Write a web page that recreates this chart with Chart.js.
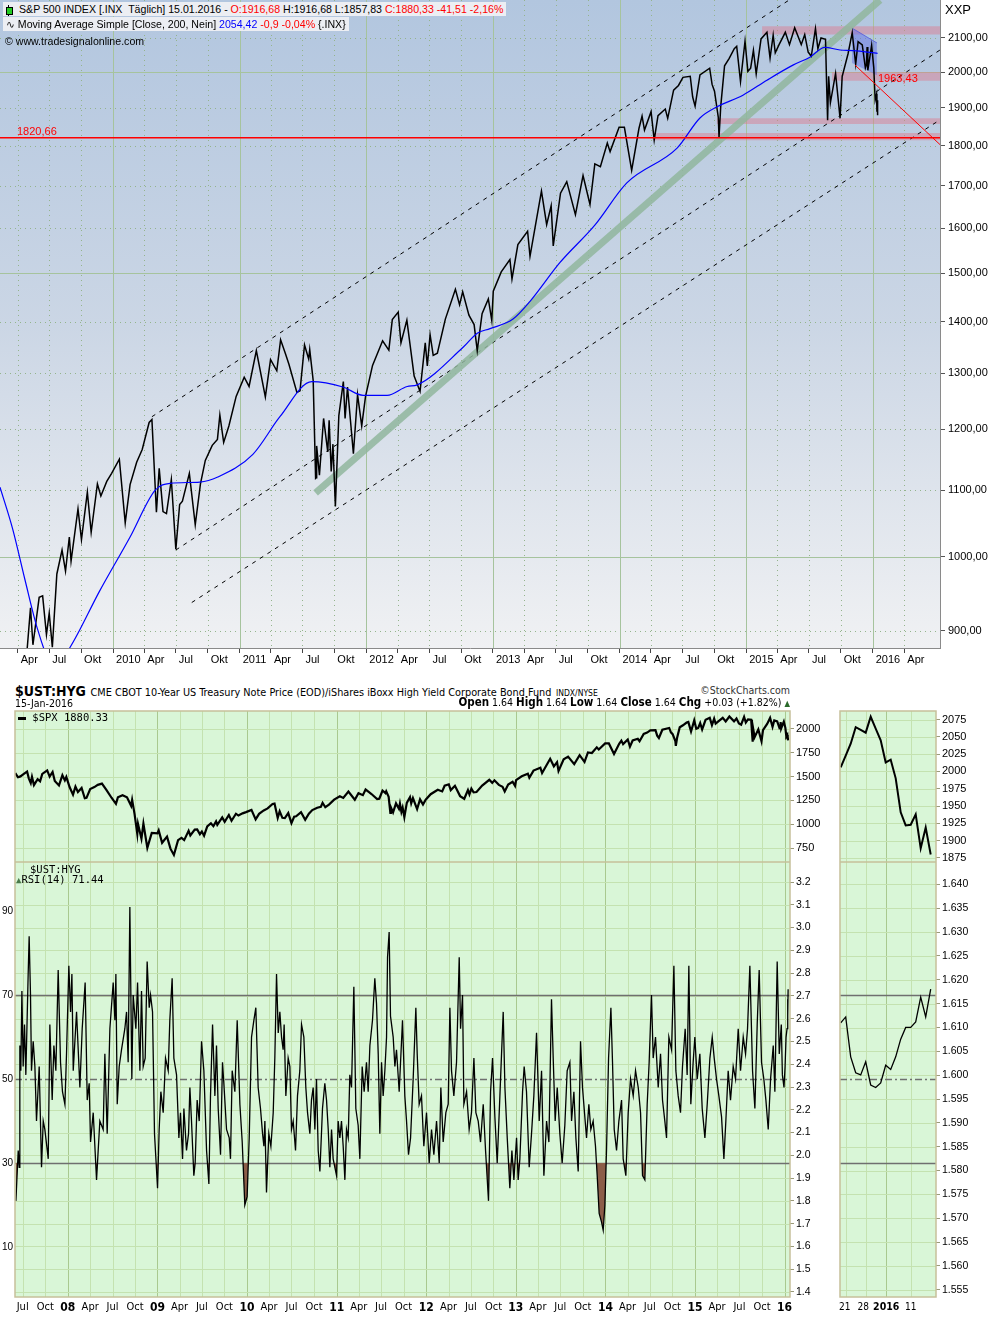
<!DOCTYPE html>
<html>
<head>
<meta charset="utf-8">
<title>S&amp;P 500 / $UST:HYG</title>
<script src="https://cdn.jsdelivr.net/npm/chart.js@4.4.1/dist/chart.umd.min.js"></script>
<style>
  body { margin:0; width:1002px; height:1318px; position:relative; overflow:hidden; background:#fff; font-family:'Liberation Sans', Arial, sans-serif; color:#000; }
  canvas { position:absolute; }
  .t { position:absolute; white-space:nowrap; line-height:1.15; }
  .r { color:#f00; }
  .b { color:#00f; }
  .n { font-family:'Liberation Sans Narrow','DejaVu Sans Condensed','Arial Narrow',sans-serif; }
  .m { font-family:'DejaVu Sans Mono','Liberation Mono',monospace; font-size:10.5px; }
</style>
</head>
<body>
<canvas id="cTop" width="1002" height="670" style="left:0;top:0"></canvas>
<canvas id="cSpx" width="840" height="157" style="left:0;top:705px"></canvas>
<canvas id="cRsi" width="840" height="456" style="left:0;top:862px"></canvas>
<canvas id="cSpxS" width="166" height="157" style="left:836px;top:705px"></canvas>
<canvas id="cRsiS" width="166" height="456" style="left:836px;top:862px"></canvas>

<!-- tradesignal header -->
<div class="t" style="left:3px;top:2px;background:#eceef3;padding:1px 3px 1px 16px;font-size:10.6px">S&amp;P 500 INDEX [.INX&nbsp; Täglich] 15.01.2016 - <span class="r">O:1916,68</span> H:1916,68 L:1857,83 <span class="r">C:1880,33 -41,51 -2,16%</span></div>
<div style="position:absolute;left:8px;top:5px;width:1px;height:11px;background:#000"></div>
<div style="position:absolute;left:6px;top:7px;width:5px;height:6px;background:#2c2;border:1px solid #000"></div>
<div class="t" style="left:3px;top:17px;background:#eceef3;padding:1px 3px 1px 3px;font-size:10.6px"><span style="font-family:'DejaVu Sans'">∿</span> Moving Average Simple [Close, 200, Nein] <span class="b">2054,42</span> <span class="r">-0,9 -0,04%</span> {.INX}</div>
<div class="t" style="left:5px;top:35px;font-size:10.6px">© www.tradesignalonline.com</div>
<div class="t r" style="left:17px;top:125px;font-size:11px">1820,66</div>
<div class="t r" style="left:878px;top:72px;font-size:11px">1963,43</div>
<div class="t" style="left:945px;top:3px;font-size:13px">XXP</div>

<!-- stockcharts header -->
<div class="t n" style="left:15px;top:682px"><b style="font-size:14px">$UST:HYG</b> <span style="font-size:10.8px">CME CBOT 10-Year US Treasury Note Price (EOD)/iShares iBoxx High Yield Corporate Bond Fund</span> <span style="font-size:8.5px">INDX/NYSE</span></div>
<div class="t n" style="right:212px;top:684px;font-size:10.5px;color:#333">©StockCharts.com</div>
<div class="t n" style="left:15px;top:697px;font-size:10.5px">15-Jan-2016</div>
<div class="t n" style="right:212px;top:696px;font-size:10.5px"><b style="font-size:11.5px">Open</b> 1.64 <b style="font-size:11.5px">High</b> 1.64 <b style="font-size:11.5px">Low</b> 1.64 <b style="font-size:11.5px">Close</b> 1.64 <b style="font-size:11.5px">Chg</b> +0.03 (+1.82%) <span style="color:#2a6a2a;font-size:8px">▲</span></div>
<div class="t m" style="left:18px;top:711px"><span style="display:inline-block;width:8px;height:3px;background:#000;vertical-align:middle"></span> $SPX 1880.33</div>
<div class="t m" style="left:30px;top:863px">$UST:HYG</div>
<div class="t m" style="left:16px;top:873px"><span style="color:#4a7a4a;font-size:9px">▲</span>RSI(14) 71.44</div>

<script>
// ---------- S&P 500 closes (roughly every 1-3 weeks)
const spxDates = [
 '2007-06-01','2007-06-12','2007-06-22','2007-07-03','2007-07-19','2007-07-26','2007-08-03','2007-08-08','2007-08-16','2007-08-31',
 '2007-09-10','2007-09-19','2007-10-09','2007-10-19','2007-10-31','2007-11-09','2007-11-26','2007-12-10','2007-12-20','2007-12-26',
 '2008-01-08','2008-01-22','2008-02-01','2008-02-11','2008-02-26','2008-03-10','2008-03-17','2008-04-01','2008-04-18','2008-05-02',
 '2008-05-19','2008-06-06','2008-06-27','2008-07-15','2008-07-23','2008-08-11','2008-08-29','2008-09-15','2008-09-19','2008-09-29',
 '2008-10-10','2008-10-13','2008-10-27','2008-11-04','2008-11-20','2008-12-08','2008-12-31',
 '2009-01-06','2009-01-20','2009-02-09','2009-02-23','2009-03-09','2009-03-26','2009-04-09','2009-04-20','2009-05-08','2009-05-15',
 '2009-06-02','2009-06-12','2009-06-23','2009-07-01','2009-07-10','2009-07-23','2009-08-07','2009-08-17','2009-08-28','2009-09-02',
 '2009-09-22','2009-10-02','2009-10-19','2009-10-30','2009-11-17','2009-11-27','2009-12-14','2009-12-28',
 '2010-01-19','2010-02-05','2010-02-19','2010-03-10','2010-03-26','2010-04-15','2010-04-23','2010-05-06','2010-05-14','2010-05-25',
 '2010-06-04','2010-06-18','2010-07-01','2010-07-12','2010-07-20','2010-08-09','2010-08-26','2010-09-10','2010-09-24','2010-10-14',
 '2010-10-29','2010-11-05','2010-11-16','2010-12-01','2010-12-22',
 '2011-01-14','2011-01-28','2011-02-18','2011-03-16','2011-03-31','2011-04-18','2011-04-29','2011-05-13','2011-05-23','2011-06-15',
 '2011-06-24','2011-07-07','2011-07-19','2011-07-22','2011-08-01','2011-08-08','2011-08-10','2011-08-11','2011-08-19','2011-08-31',
 '2011-09-12','2011-09-16','2011-09-22','2011-09-27','2011-10-04','2011-10-14','2011-10-27','2011-11-01','2011-11-08','2011-11-25',
 '2011-12-07','2011-12-19','2011-12-30',
 '2012-01-19','2012-02-17','2012-03-06','2012-03-16','2012-04-02','2012-04-10','2012-04-27','2012-05-18','2012-06-04','2012-06-19',
 '2012-06-25','2012-07-03','2012-07-12','2012-07-24','2012-08-16','2012-09-14','2012-09-26','2012-10-05','2012-10-23','2012-11-07',
 '2012-11-16','2012-11-30','2012-12-18','2012-12-28',
 '2013-01-02','2013-01-25','2013-02-19','2013-02-25','2013-03-14','2013-04-11','2013-04-18','2013-05-21','2013-06-05','2013-06-18',
 '2013-06-24','2013-07-15','2013-08-02','2013-08-27','2013-09-18','2013-10-08','2013-10-22','2013-11-07','2013-11-27','2013-12-05',
 '2013-12-31',
 '2014-01-15','2014-02-05','2014-02-26','2014-03-07','2014-03-14','2014-04-02','2014-04-11','2014-04-22','2014-05-13','2014-05-20',
 '2014-06-06','2014-06-20','2014-07-03','2014-07-24','2014-07-31','2014-08-07','2014-08-21','2014-09-18','2014-09-25','2014-10-02',
 '2014-10-13','2014-10-15','2014-10-20','2014-10-31','2014-11-13','2014-11-28','2014-12-05','2014-12-16','2014-12-29',
 '2015-01-06','2015-01-14','2015-01-22','2015-01-30','2015-02-13','2015-03-02','2015-03-11','2015-03-20','2015-03-26','2015-04-06',
 '2015-04-24','2015-05-06','2015-05-21','2015-06-09','2015-06-19','2015-06-29','2015-07-08','2015-07-20','2015-07-27','2015-08-05',
 '2015-08-18','2015-08-21','2015-08-24','2015-08-27','2015-09-01','2015-09-16','2015-09-29','2015-10-05','2015-10-22','2015-11-03',
 '2015-11-13','2015-11-20','2015-12-02','2015-12-11','2015-12-14','2015-12-16','2015-12-18','2015-12-29',
 '2016-01-04','2016-01-07','2016-01-08','2016-01-12','2016-01-13','2016-01-14','2016-01-15'
];
const spxClose = [
 1536,1493,1502,1524,1553,1482,1433,1497,1411,1474,
 1451,1529,1565,1500,1549,1453,1407,1515,1460,1497,
 1390,1310,1395,1339,1381,1273,1277,1370,1390,1413,
 1426,1361,1278,1214,1282,1305,1283,1193,1255,1106,
 899,1003,848,1006,752,909,903,
 935,805,870,743,677,832,857,833,930,882,
 944,946,895,923,879,976,1010,980,1029,994,
 1071,1025,1097,1036,1110,1091,1114,1127,
 1150,1050,1109,1145,1166,1212,1217,1066,1135,1067,
 1064,1117,1011,1078,1083,1127,1047,1110,1148,1173,
 1183,1225,1178,1206,1258,
 1293,1276,1343,1257,1326,1305,1364,1337,1317,1265,
 1268,1354,1327,1345,1287,1119,1120,1172,1124,1219,
 1162,1216,1130,1175,1075,1224,1285,1219,1275,1159,
 1261,1206,1258,
 1315,1362,1344,1404,1419,1358,1403,1295,1267,1358,
 1314,1374,1334,1338,1405,1466,1434,1461,1413,1394,
 1343,1416,1446,1402,
 1462,1503,1530,1488,1563,1593,1537,1687,1608,1652,
 1560,1682,1710,1631,1725,1655,1754,1747,1807,1785,
 1848,
 1848,1738,1845,1878,1841,1890,1815,1879,1897,1872,
 1949,1962,1985,1988,1930,1905,1992,2011,1965,1946,
 1874,1822,1905,2018,2039,2068,2075,1973,2090,
 2002,2011,2063,1995,2097,2117,2040,2108,2056,2080,
 2117,2080,2131,2080,2110,2058,2046,2128,2068,2100,
 2096,1971,1867,1988,1914,1996,1872,1987,2053,2116,
 2023,2089,2079,2012,2021,2073,2005,2078,
 2012,1943,1922,1938,1890,1921,1880
];

// ---------- 200-day simple moving average (blue line, top panel)
const maDates = ['2009-02-09','2009-03-18','2009-04-22','2009-05-29','2009-07-02','2009-07-31','2009-08-29','2009-11-24',
 '2010-02-19','2010-05-02','2010-06-14','2010-09-08','2010-10-30','2011-02-08','2011-04-27','2011-07-28','2011-10-26','2011-12-23',
 '2012-03-01','2012-04-28','2012-05-27','2012-10-07','2012-11-16','2012-12-23','2013-02-28','2013-04-18','2013-07-13','2013-10-22',
 '2014-01-22','2014-06-16','2014-08-21','2014-10-09','2014-12-23','2015-03-02','2015-05-16','2015-07-04','2015-08-16','2015-09-29',
 '2015-11-05','2015-12-16','2016-01-15'];
const maValues = [1105,1040,968,901,864,862,878,953,
 1029,1100,1111,1113,1121,1158,1222,1285,1275,1260,
 1260,1276,1279,1350,1377,1386,1405,1441,1523,1607,
 1707,1794,1873,1903,1935,1977,2020,2043,2072,2064,
 2062,2058,2054];

// ---------- hand drawn objects on the tradesignal chart [date, price]
const channelA = [['2010-04-23',1222],['2015-06-06',2240]];
const channelB = [['2010-07-01',1010],['2016-07-13',2064]];
const channelC = [['2010-08-16',937],['2016-07-13',1868]];
const greenTrend = [['2011-08-08',1096],['2016-01-22',2217]];
const redFallLine = [['2015-11-11',2020],['2016-07-13',1803]];
const supportLevel = 1820.66;
const bandStart = ['2015-02-16','2015-09-05','2014-10-08','2014-04-07'];
const bandLow   = [2110,1975,1857,1814];
const bandHigh  = [2135,2000,1872,1833];
const fanDates = ['2015-11-02','2016-01-13'];
const fanHigh  = [2130,2085];
const fanLow   = [2026,1991];

// ---------- RSI(14) of $UST:HYG (time in years, value)
const rsiTime = [
 2007.420,2007.446,2007.457,2007.464,2007.475,2007.487,2007.501,2007.516,2007.531,2007.557,2007.568,2007.583,2007.594,2007.613,2007.632,
 2007.650,2007.680,2007.706,2007.725,2007.743,2007.781,2007.799,2007.825,2007.844,2007.866,2007.892,2007.918,2007.940,2007.967,2007.985,
 2008.011,2008.030,2008.045,2008.060,2008.097,2008.134,2008.160,2008.193,2008.216,2008.238,2008.253,2008.283,2008.320,2008.357,2008.394,
 2008.413,2008.439,2008.469,2008.506,2008.525,2008.536,2008.551,2008.573,2008.599,2008.636,2008.655,2008.673,2008.692,2008.714,2008.729,
 2008.759,2008.778,2008.804,2008.822,2008.841,2008.863,2008.885,2008.908,2008.923,2008.945,2008.967,2009.001,2009.019,2009.038,2009.064,
 2009.090,2009.120,2009.138,2009.164,2009.183,2009.213,2009.239,2009.257,2009.280,2009.295,2009.324,2009.347,2009.362,2009.380,2009.406,
 2009.421,2009.443,2009.466,2009.492,2009.518,2009.548,2009.574,2009.592,2009.615,2009.641,2009.659,2009.678,2009.704,2009.726,2009.741,
 2009.771,2009.801,2009.815,2009.834,2009.864,2009.890,2009.920,2009.946,2009.975,2010.001,2010.024,2010.050,2010.076,2010.098,2010.124,
 2010.150,2010.173,2010.188,2010.199,2010.217,2010.243,2010.266,2010.292,2010.310,2010.329,2010.348,2010.366,2010.385,2010.403,2010.414,
 2010.433,2010.459,2010.478,2010.496,2010.515,2010.541,2010.563,2010.589,2010.608,2010.634,2010.656,2010.675,2010.701,2010.719,2010.738,
 2010.757,2010.775,2010.794,2010.813,2010.842,2010.868,2010.887,2010.906,2010.924,2010.943,2010.961,2010.980,2010.999,2011.017,2011.036,
 2011.054,2011.073,2011.092,2011.110,2011.129,2011.147,2011.166,2011.192,2011.214,2011.240,2011.259,2011.285,2011.307,2011.333,2011.352,
 2011.371,2011.400,2011.426,2011.445,2011.464,2011.482,2011.501,2011.519,2011.538,2011.557,2011.568,2011.586,2011.601,2011.631,2011.650,
 2011.668,2011.698,2011.735,2011.761,2011.780,2011.802,2011.825,2011.854,2011.884,2011.899,2011.921,2011.947,2011.973,2012.003,2012.033,
 2012.059,2012.085,2012.115,2012.145,2012.163,2012.189,2012.219,2012.245,2012.264,2012.282,2012.308,2012.338,2012.368,2012.383,2012.405,
 2012.420,2012.450,2012.479,2012.505,2012.532,2012.554,2012.580,2012.606,2012.636,2012.662,2012.695,2012.718,2012.740,2012.766,2012.792,
 2012.822,2012.859,2012.878,2012.904,2012.933,2012.956,2012.978,2013.008,2013.026,2013.045,2013.075,2013.093,2013.119,2013.149,2013.175,
 2013.201,2013.231,2013.261,2013.287,2013.313,2013.343,2013.369,2013.398,2013.417,2013.439,2013.462,2013.491,2013.517,2013.547,2013.573,
 2013.603,2013.622,2013.648,2013.670,2013.696,2013.722,2013.744,2013.770,2013.789,2013.815,2013.837,2013.863,2013.889,2013.908,2013.930,
 2013.956,2013.975,2013.994,2014.012,2014.035,2014.061,2014.079,2014.098,2014.124,2014.150,2014.180,2014.198,2014.228,2014.254,2014.280,
 2014.310,2014.336,2014.366,2014.392,2014.414,2014.440,2014.466,2014.488,2014.514,2014.533,2014.559,2014.589,2014.615,2014.637,2014.663,
 2014.682,2014.708,2014.738,2014.764,2014.786,2014.812,2014.838,2014.860,2014.890,2014.912,2014.931,2014.953,2014.979,2014.998,2015.024,
 2015.054,2015.080,2015.110,2015.136,2015.166,2015.192,2015.214,2015.240,2015.266,2015.296,2015.322,2015.344,2015.370,2015.396,2015.426,
 2015.452,2015.482,2015.508,2015.538,2015.564,2015.586,2015.612,2015.642,2015.668,2015.694,2015.716,2015.742,2015.768,2015.791,2015.817,
 2015.843,2015.873,2015.891,2015.917,2015.940,2015.963,2015.975,2015.993,2016.005,2016.016,2016.027,2016.033,2016.036,2016.039
];
const rsiValue = [
 21,33,29,58,52,71,53,63,51,75,84,70,52,59,53,
 40,53,29,40,38,31,63,45,58,52,76,54,47,44,56,
 77,66,75,52,66,48,62,73,45,49,35,42,26,40,38,
 56,37,62,73,64,75,44,53,57,62,66,54,91,50,70,
 62,73,52,71,53,55,78,67,70,66,37,24,38,47,42,
 55,52,64,74,55,51,36,42,31,43,33,37,48,40,27,
 30,45,40,59,52,33,25,46,63,46,58,43,32,54,49,
 38,36,31,52,47,64,44,35,20,22,36,60,64,67,48,
 43,37,34,40,23,37,34,42,55,75,61,66,60,57,63,
 46,55,53,38,40,33,46,52,63,60,48,42,37,45,48,
 38,50,33,28,43,49,45,38,29,38,31,29,27,40,36,
 40,34,26,38,36,51,48,72,43,39,31,53,47,54,47,
 58,64,74,68,56,37,54,46,52,60,79,85,65,60,53,
 57,47,64,46,40,32,36,50,67,56,44,46,34,42,30,
 38,32,40,30,48,35,42,44,67,52,46,54,79,62,70,
 44,47,38,42,55,42,40,35,44,33,21,47,55,41,30,
 46,66,48,36,24,33,26,36,26,31,47,53,47,29,37,
 46,61,40,52,27,40,35,69,55,40,48,37,30,39,52,
 54,40,47,36,28,59,48,41,36,44,38,40,34,27,18,
 16,14,20,33,55,67,54,38,33,40,45,31,27,42,50,
 46,52,48,42,27,26,44,54,70,55,60,48,56,45,40,
 36,60,57,77,52,46,42,53,62,51,77,44,54,60,50,
 56,43,36,44,55,60,55,50,46,41,31,40,52,45,53,
 50,62,52,60,56,62,77,52,43,63,76,54,50,45,38,
 50,58,47,78,56,63,51,48,53,60,62,69,65,71.4
];

// ---------- right hand zoom: last trading days
const shortDays = ['18','21','22','23','24','28','29','30','31','4','5','6','7','8','11','12','13','14','15'];
const shortSpx  = [2006,2023,2040,2064,2060,2056,2079,2062,2045,2013,2017,1990,1941,1922,1923,1938,1889,1919,1880];
const shortRsi  = [63.4,64.8,55.3,51.5,51.0,54.1,48.6,48.0,49.1,53.3,52.3,55.3,59.5,62.3,62.3,63.6,69.5,64.8,71.4];

// ---------- axis labels
const topPriceTicks = [900,1000,1100,1200,1300,1400,1500,1600,1700,1800,1900,2000,2100];
const spxTicks = [750,1000,1250,1500,1750,2000];
const rsiTicks = [10,30,50,70,90];
const rsiLevels = [30,50,70];
const hygTicks = [1.4,1.5,1.6,1.7,1.8,1.9,2.0,2.1,2.2,2.3,2.4,2.5,2.6,2.7,2.8,2.9,3.0,3.1,3.2];
const spxShortTicks = [1875,1900,1925,1950,1975,2000,2025,2050,2075];
const hygShortTicks = [1.555,1.560,1.565,1.570,1.575,1.580,1.585,1.590,1.595,1.600,1.605,1.610,1.615,1.620,1.625,1.630,1.635,1.640];
const shortTickIdx = [1,5,9,14];
const shortLabelPos = [0.8,4.5,9.1,14];
const shortTickNames = ['21','28','2016','11'];

// ---------- helpers
function toYear(s) {
  const d = Date.UTC(+s.slice(0,4), +s.slice(5,7)-1, +s.slice(8,10));
  const y = +s.slice(0,4);
  return y + (d - Date.UTC(y,0,1)) / (365.25*864e5);
}
const pts = (dates, vals) => dates.map((d,i) => ({x: toYear(d), y: vals[i]}));
const seg = p => p.map(q => ({x: toYear(q[0]), y: q[1]}));
const setTicks = list => s => { s.ticks = list.map(v => ({value: v})); };
const fixW = w => s => { s.width = w; s.paddingTop = 0; s.paddingBottom = 0; };
const fixH = h => s => { s.height = h; s.paddingLeft = 0; s.paddingRight = 0; };

Chart.defaults.font.family = "'Liberation Sans', Arial, sans-serif";
Chart.defaults.color = '#000';
const narrow = "'Liberation Sans Narrow','DejaVu Sans Condensed','Arial Narrow',sans-serif";
const baseOpts = {
  responsive: false, animation: false, devicePixelRatio: 1,
  plugins: {legend: {display: false}, tooltip: {enabled: false}},
  elements: {point: {radius: 0}, line: {tension: 0}},
  events: []
};

// quarter ticks for the date axes
const topXTicks = [], topXNames = [];
for (let y = 2009; y <= 2016; y++) {
  [['01','' + y], ['04','Apr'], ['07','Jul'], ['10','Okt']].forEach(m => {
    const v = toYear(y + '-' + m[0] + '-01');
    if (v > 2009.11 && v < 2016.4) { topXTicks.push(v); topXNames.push(m[1]); }
  });
}
const botXTicks = [], botXNames = [], botYear = [];
for (let y = 2007; y <= 2016; y++) {
  [['01', String(y).slice(2)], ['04','Apr'], ['07','Jul'], ['10','Oct']].forEach(m => {
    const v = toYear(y + '-' + m[0] + '-01');
    if (v > 2007.42 && v < 2016.05) { botXTicks.push(v); botXNames.push(m[1]); botYear.push(m[0] === '01'); }
  });
}

// ---------- top chart (tradesignal)
const topPaint = {
  id: 'topPaint',
  beforeDraw(c) {
    const {ctx, chartArea: a, scales: {x, y}} = c;
    ctx.save();
    const g = ctx.createLinearGradient(0, a.top, 0, a.bottom);
    g.addColorStop(0, '#b2c6df');
    g.addColorStop(0.5, '#cbd6e5');
    g.addColorStop(1, '#f0f1f3');
    ctx.fillStyle = g;
    ctx.fillRect(a.left, a.top, a.width, a.height);
    ctx.lineWidth = 1;
    topPriceTicks.forEach(v => {
      const py = Math.round(y.getPixelForValue(v)) + 0.5;
      const major = v % 500 === 0;
      ctx.strokeStyle = major ? '#a6c39d' : '#94b48c';
      ctx.setLineDash(major ? [] : [1, 4]);
      ctx.beginPath(); ctx.moveTo(a.left, py); ctx.lineTo(a.right, py); ctx.stroke();
    });
    topXTicks.forEach((v, i) => {
      const px = Math.round(x.getPixelForValue(v)) + 0.5;
      const major = /^\d/.test(topXNames[i]);
      ctx.strokeStyle = major ? '#a6c39d' : '#94b48c';
      ctx.setLineDash(major ? [] : [1, 4]);
      ctx.beginPath(); ctx.moveTo(px, a.top); ctx.lineTo(px, a.bottom); ctx.stroke();
    });
    ctx.restore();
  }
};

const topSets = [];
bandStart.forEach((d, i) => {
  topSets.push({data: seg([[d, bandLow[i]], ['2016-12-31', bandLow[i]]]), borderWidth: 0, order: 10});
  topSets.push({data: seg([[d, bandHigh[i]], ['2016-12-31', bandHigh[i]]]), borderWidth: 0, order: 10,
    fill: '-1', backgroundColor: 'rgba(222,120,140,0.45)'});
});
topSets.push({data: pts(fanDates, fanLow), borderWidth: 0, order: 9});
topSets.push({data: pts(fanDates, fanHigh), borderColor: 'rgba(80,90,220,0.8)', borderWidth: 1, order: 9,
  fill: '-1', backgroundColor: 'rgba(90,105,230,0.45)'});
[channelA, channelB, channelC].forEach(l => topSets.push({data: seg(l), borderColor: '#000', borderWidth: 1, borderDash: [4, 5], order: 8}));
topSets.push({data: seg(greenTrend), borderColor: 'rgba(145,182,158,0.85)', borderWidth: 7, borderCapStyle: 'butt', order: 7});
topSets.push({data: pts(spxDates, spxClose), borderColor: '#000', borderWidth: 1.5, order: 3});
topSets.push({data: pts(maDates, maValues), borderColor: '#0000ff', borderWidth: 1.2, cubicInterpolationMode: 'monotone', order: 2});
topSets.push({data: seg([['2008-06-01', supportLevel], ['2016-12-31', supportLevel]]), borderColor: '#ff0000', borderWidth: 1.5, order: 1});
topSets.push({data: seg(redFallLine), borderColor: '#ff0000', borderWidth: 1, order: 1});

new Chart(document.getElementById('cTop'), {
  type: 'line',
  data: {datasets: topSets},
  options: Object.assign({}, baseOpts, {
    layout: {padding: 0},
    scales: {
      x: {
        type: 'linear', min: toYear('2009-02-09'), max: toYear('2016-07-13'),
        afterBuildTicks: setTicks(topXTicks), afterFit: fixH(22),
        grid: {drawOnChartArea: false, tickLength: 5, color: '#444'},
        border: {display: true, color: '#8a8a8a'},
        ticks: {autoSkip: false, maxRotation: 0, align: 'start', labelOffset: 3, padding: 0,
          font: {size: 11}, callback: (v, i) => topXNames[i]}
      },
      y: {
        type: 'logarithmic', position: 'right', min: 878, max: 2217,
        afterBuildTicks: setTicks(topPriceTicks), afterFit: fixW(62),
        grid: {drawOnChartArea: false, tickLength: 5, color: '#555'},
        border: {display: true, color: '#8a8a8a'},
        ticks: {padding: 3, font: {size: 11}, callback: v => v.toFixed(2).replace('.', ',')}
      }
    }
  }),
  plugins: [topPaint]
});

// ---------- stockcharts panels
function greenPanel(id, o) {
  return {
    id,
    beforeDraw(c) {
      const {ctx, chartArea: a} = c;
      const x = c.scales.x, y = c.scales[o.gridAxis];
      ctx.save();
      ctx.fillStyle = '#d9f6d7';
      ctx.fillRect(a.left, a.top, a.width, a.height);
      ctx.lineWidth = 1;
      o.vTicks.forEach((v, i) => {
        const px = Math.round(x.getPixelForValue(v)) + 0.5;
        ctx.strokeStyle = o.vMajor[i] ? '#a9c98f' : '#c4e2b0';
        ctx.beginPath(); ctx.moveTo(px, a.top); ctx.lineTo(px, a.bottom); ctx.stroke();
      });
      o.hTicks.forEach(v => {
        const py = Math.round(y.getPixelForValue(v)) + 0.5;
        ctx.strokeStyle = '#c4e2b0';
        ctx.beginPath(); ctx.moveTo(a.left, py); ctx.lineTo(a.right, py); ctx.stroke();
      });
      if (o.rsi) {
        const r = c.scales.yr;
        rsiLevels.forEach(v => {
          const py = Math.round(r.getPixelForValue(v)) + 0.5;
          ctx.strokeStyle = '#6f6f6f';
          ctx.lineWidth = 1.3;
          ctx.setLineDash(v === 50 ? [7, 3, 2, 3] : []);
          ctx.beginPath(); ctx.moveTo(a.left, py); ctx.lineTo(a.right, py); ctx.stroke();
        });
      }
      ctx.restore();
    },
    afterDraw(c) {
      const {ctx, chartArea: a} = c;
      ctx.save();
      ctx.strokeStyle = '#c6c09a';
      ctx.lineWidth = 1.5;
      ctx.strokeRect(a.left, a.top, a.width, a.height);
      ctx.restore();
    }
  };
}

const botMin = 2007.41, botMax = 2016.06;
const shortMin = -0.14, shortMax = 19.06;
const shortIdx = shortDays.map((d, i) => i);
const plain = v => String(v);

// main $SPX line
new Chart(document.getElementById('cSpx'), {
  type: 'line',
  data: {datasets: [{data: pts(spxDates, spxClose), borderColor: '#000', borderWidth: 2.2, yAxisID: 'ys'}]},
  options: Object.assign({}, baseOpts, {
    layout: {padding: {left: 15, top: 6, right: 0, bottom: 0}},
    scales: {
      x: {type: 'linear', display: false, min: botMin, max: botMax},
      ys: {
        type: 'linear', position: 'right', min: 603, max: 2189,
        afterBuildTicks: setTicks(spxTicks), afterFit: fixW(50),
        grid: {drawOnChartArea: false, tickLength: 4, color: '#9a9a7a'},
        border: {display: false},
        ticks: {padding: 2, font: {size: 11}, callback: plain}
      }
    }
  }),
  plugins: [greenPanel('pSpx', {gridAxis: 'ys', vTicks: botXTicks, vMajor: botYear, hTicks: spxTicks})]
});

// main RSI panel
new Chart(document.getElementById('cRsi'), {
  type: 'line',
  data: {datasets: [{
    data: rsiTime.map((t, i) => ({x: t, y: rsiValue[i]})),
    borderColor: '#000', borderWidth: 1.3, yAxisID: 'yr',
    fill: {target: {value: 30}, above: 'rgba(0,0,0,0)', below: '#8c5d48'}
  }]},
  options: Object.assign({}, baseOpts, {
    layout: {padding: 0},
    scales: {
      x: {
        type: 'linear', min: botMin, max: botMax,
        afterBuildTicks: setTicks(botXTicks), afterFit: fixH(21),
        grid: {drawOnChartArea: false, drawTicks: false},
        border: {display: false},
        ticks: {autoSkip: false, maxRotation: 0, padding: 4,
          font: c => botYear[c.index] ? {family: narrow, size: 12, weight: 'bold'} : {family: narrow, size: 11},
          callback: (v, i) => botXNames[i]}
      },
      yr: {
        type: 'linear', position: 'left', min: -1.9, max: 101.7,
        afterBuildTicks: setTicks(rsiTicks), afterFit: fixW(15),
        grid: {drawOnChartArea: false, drawTicks: false},
        border: {display: false},
        ticks: {padding: 2, font: {size: 10}, callback: plain}
      },
      yh: {
        type: 'linear', position: 'right', min: 1.378, max: 3.288,
        afterBuildTicks: setTicks(hygTicks), afterFit: fixW(50),
        grid: {drawOnChartArea: false, tickLength: 4, color: '#9a9a7a'},
        border: {display: false},
        ticks: {padding: 2, font: {size: 10.5}, callback: v => v.toFixed(1)}
      }
    }
  }),
  plugins: [greenPanel('pRsi', {gridAxis: 'yh', vTicks: botXTicks, vMajor: botYear, hTicks: hygTicks, rsi: true})]
});

// zoom panel: $SPX last days
new Chart(document.getElementById('cSpxS'), {
  type: 'line',
  data: {datasets: [{data: shortIdx.map(i => ({x: i, y: shortSpx[i]})), borderColor: '#000', borderWidth: 2, yAxisID: 'ys'}]},
  options: Object.assign({}, baseOpts, {
    layout: {padding: {left: 4, top: 6, right: 0, bottom: 0}},
    scales: {
      x: {type: 'linear', display: false, min: shortMin, max: shortMax},
      ys: {
        type: 'linear', position: 'right', min: 1869.2, max: 2087.3,
        afterBuildTicks: setTicks(spxShortTicks), afterFit: fixW(66),
        grid: {drawOnChartArea: false, tickLength: 4, color: '#9a9a7a'},
        border: {display: false},
        ticks: {padding: 2, font: {size: 11}, callback: plain}
      }
    }
  }),
  plugins: [greenPanel('pSpxS', {gridAxis: 'ys', vTicks: shortTickIdx, vMajor: [false, false, true, false], hTicks: spxShortTicks})]
});

// zoom panel: RSI last days
new Chart(document.getElementById('cRsiS'), {
  type: 'line',
  data: {datasets: [{
    data: shortIdx.map(i => ({x: i, y: shortRsi[i]})),
    borderColor: '#000', borderWidth: 1.3, yAxisID: 'yr'
  }]},
  options: Object.assign({}, baseOpts, {
    layout: {padding: {left: 4, top: 0, right: 0, bottom: 0}},
    scales: {
      x: {
        type: 'linear', min: shortMin, max: shortMax,
        afterBuildTicks: setTicks(shortLabelPos), afterFit: fixH(21),
        grid: {drawOnChartArea: false, drawTicks: false},
        border: {display: false},
        ticks: {autoSkip: false, maxRotation: 0, padding: 4,
          font: c => c.index === 2 ? {family: narrow, size: 10.5, weight: 'bold'} : {family: narrow, size: 10},
          callback: (v, i) => shortTickNames[i]}
      },
      yr: {type: 'linear', display: false, min: -1.9, max: 101.7},
      yh: {
        type: 'linear', position: 'right', min: 1.5535, max: 1.6447,
        afterBuildTicks: setTicks(hygShortTicks), afterFit: fixW(66),
        grid: {drawOnChartArea: false, tickLength: 4, color: '#9a9a7a'},
        border: {display: false},
        ticks: {padding: 2, font: {size: 10.5}, callback: v => v.toFixed(3)}
      }
    }
  }),
  plugins: [greenPanel('pRsiS', {gridAxis: 'yh', vTicks: shortTickIdx, vMajor: [false, false, true, false], hTicks: hygShortTicks, rsi: true})]
});
</script>
</body>
</html>
